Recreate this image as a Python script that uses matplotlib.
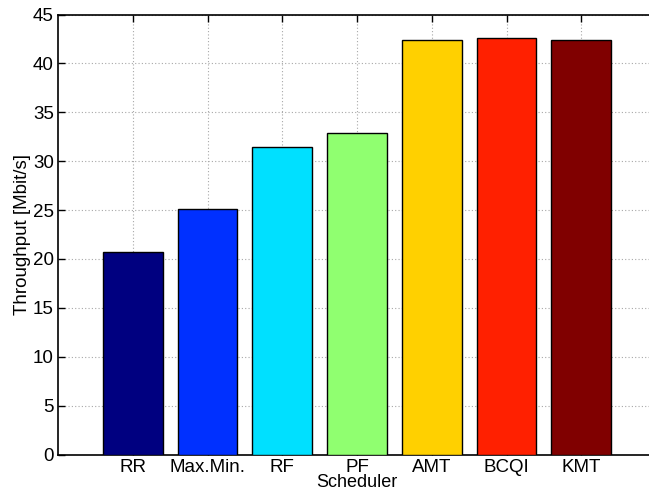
import matplotlib
matplotlib.use('Agg')
import matplotlib.pyplot as plt

plt.rcParams['font.family'] = ['Liberation Sans', 'DejaVu Sans']

schedulers = ['RR', 'Max.Min.', 'RF', 'PF', 'AMT', 'BCQI', 'KMT']
throughput = [20.75, 25.1, 31.5, 32.9, 42.4, 42.55, 42.4]
bar_colors = ['#000080', '#0030FF', '#00E0FF', '#90FF70', '#FFD000', '#FF2000', '#800000']

fig = plt.figure(figsize=(6.49, 4.92), dpi=100)
ax = fig.add_axes([58 / 649, 1 - 454.5 / 492, 598 / 649, 440 / 492])

positions = list(range(1, len(schedulers) + 1))
ax.bar(positions, throughput, width=0.8, color=bar_colors, edgecolor='black', linewidth=1.0, zorder=3)

ax.set_xlim(0, 8)
ax.set_ylim(0, 45)
ax.set_xticks(positions)
ax.set_xticklabels(schedulers)
ax.set_yticks(range(0, 46, 5))

ax.grid(True, linestyle=(0, (1, 2)), color='#a8a8a8', linewidth=0.8, zorder=0)
ax.tick_params(direction='in', top=True, right=True, labelsize=13.5, length=5, width=1, pad=3)
ax.tick_params(axis='x', pad=3)
for s in ax.spines.values():
    s.set_linewidth(1.2)

ax.set_xlabel('Scheduler', fontsize=13, labelpad=-1)
ax.set_ylabel('Throughput [Mbit/s]', fontsize=13.5, labelpad=1)

fig.savefig('out.png', dpi=100)
